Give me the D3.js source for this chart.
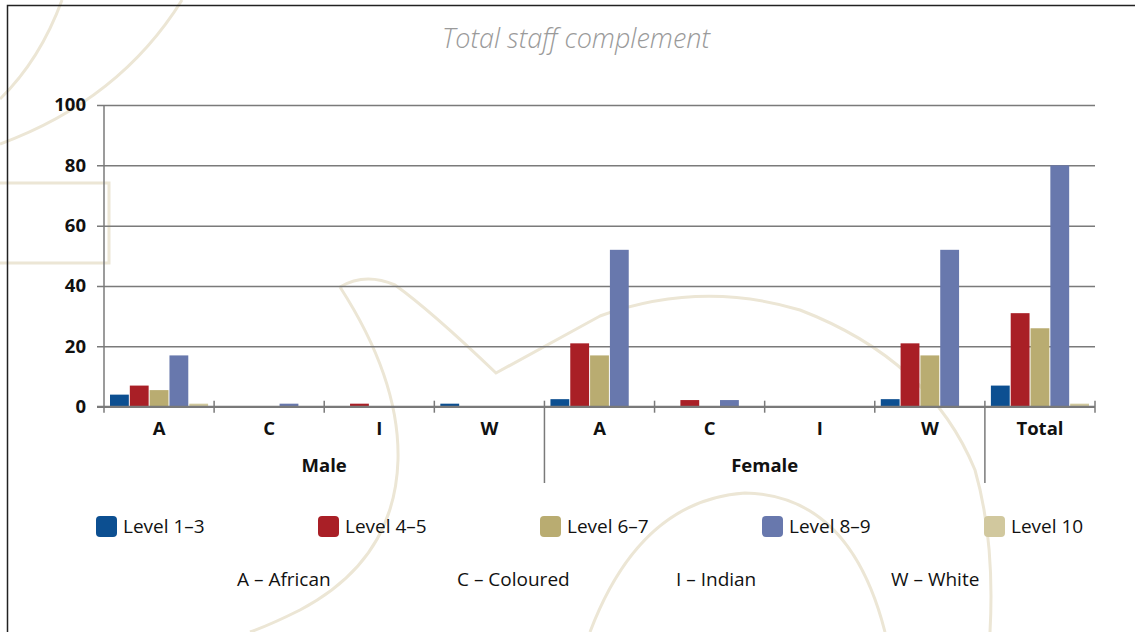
<!DOCTYPE html>
<html>
<head>
<meta charset="utf-8">
<script src="https://d3js.org/d3.v7.min.js"></script>
<style>
  body { margin: 0; background: #fff; }
  text { font-family: "Open Sans", "Noto Sans", sans-serif; fill: #111; }
  .tick-lbl { font-size: 18.5px; font-weight: 700; }
  .leg { font-size: 19px; }
</style>
</head>
<body>
<svg width="1135" height="632"></svg>
<script>
// chart data
var categories = ["A", "C", "I", "W", "A", "C", "I", "W", "Total"];
var groups = ["Male", "Female"];
var series = ["Level 1–3", "Level 4–5", "Level 6–7", "Level 8–9", "Level 10"];
var level13 = [4, 0, 0, 1, 2.5, 0, 0, 2.5, 7];
var level45 = [7, 0, 1, 0, 21, 2.2, 0, 21, 31];
var level67 = [5.5, 0, 0, 0, 17, 0, 0, 17, 26];
var level89 = [17, 1, 0, 0, 52, 2.2, 0, 52, 80];
var level10 = [1, 0, 0, 0, 0, 0, 0, 0, 1];
var yTicks = [0, 20, 40, 60, 80, 100];
var raceKey = ["A – African", "C – Coloured", "I – Indian", "W – White"];

var colors = ["#0c4f91", "#a91f26", "#b9ac71", "#6878ad", "#d1c89e"];
var allValues = [level13, level45, level67, level89, level10];

var svg = d3.select("svg");

// faint background ornaments
var deco = svg.append("g")
    .attr("fill", "none")
    .attr("stroke", "#ece6d5")
    .attr("stroke-width", 3);
deco.append("path").attr("d", "M0,99 Q40,60 62,0");
deco.append("path").attr("d", "M0,144 Q120,100 182,0");
deco.append("path").attr("d", "M0,183 L109,183 L109,263 L0,263");
deco.append("path").attr("d", "M340,287 Q365,272 395,285 Q430,310 496,373 L600,316 Q700,280 800,310 Q930,360 975,470 Q995,540 990,632");
deco.append("path").attr("d", "M340,287 Q400,380 398,460 Q395,560 300,610 Q270,625 250,632");
deco.append("path").attr("d", "M590,632 Q640,500 745,493 Q850,495 885,632");

var margin = {left: 104, right: 1095, top: 105, bottom: 406.7};

var x0 = d3.scaleBand()
    .domain(d3.range(categories.length))
    .range([margin.left, margin.right]);

var x1 = d3.scaleBand()
    .domain(d3.range(series.length))
    .range([6, x0.bandwidth() - 6])
    .paddingInner(0.05);

var y = d3.scaleLinear()
    .domain([0, 100])
    .range([margin.bottom, margin.top]);

// frame
svg.append("path")
    .attr("d", "M7.5,632 L7.5,5.5 L1135,5.5")
    .attr("fill", "none")
    .attr("stroke", "#222")
    .attr("stroke-width", 1.5);

// title
svg.append("text")
    .attr("x", 576)
    .attr("y", 48)
    .attr("text-anchor", "middle")
    .style("font-size", "27px")
    .style("font-style", "italic")
    .style("font-weight", 300)
    .style("fill", "#9a9a9a")
    .text("Total staff complement");

// gridlines + y labels
var yAxis = svg.append("g")
    .attr("transform", "translate(" + margin.left + ",0)")
    .call(d3.axisLeft(y).tickValues(yTicks).tickSize(-(margin.right - margin.left)).tickSizeOuter(0).tickPadding(18));
yAxis.select(".domain").remove();
yAxis.selectAll(".tick line")
    .attr("x1", -7)
    .attr("stroke", "#7a7a7a")
    .attr("stroke-width", 1.5);
yAxis.selectAll(".tick text")
    .attr("class", "tick-lbl")
    .attr("font-family", null)
    .attr("font-size", null)
    .attr("fill", "#111");

// y axis line
svg.append("line")
    .attr("x1", margin.left).attr("x2", margin.left)
    .attr("y1", margin.top).attr("y2", margin.bottom + 6)
    .attr("stroke", "#7a7a7a").attr("stroke-width", 1.5);

// bars
var bars = svg.append("g");
allValues.forEach(function(vals, s) {
    bars.selectAll(".s" + s)
        .data(vals)
        .enter()
        .append("rect")
        .attr("class", "s" + s)
        .attr("x", function(d, i) { return x0(i) + x1(s); })
        .attr("width", x1.bandwidth())
        .attr("y", function(d) { return y(d); })
        .attr("height", function(d) { return y(0) - y(d); })
        .attr("fill", colors[s]);
});

// x axis
var xAxis = svg.append("g")
    .attr("transform", "translate(0," + margin.bottom + ")")
    .call(d3.axisBottom(x0).tickSize(0).tickPadding(15).tickFormat(function(i) { return categories[i]; }));
xAxis.select(".domain").remove();
xAxis.selectAll(".tick text")
    .attr("class", "tick-lbl")
    .attr("font-family", null)
    .attr("font-size", null)
    .attr("fill", "#111");

svg.append("line")
    .attr("x1", margin.left - 7).attr("x2", margin.right)
    .attr("y1", margin.bottom).attr("y2", margin.bottom)
    .attr("stroke", "#7a7a7a").attr("stroke-width", 2);

// group dividers
var bounds = d3.range(1, categories.length + 1).map(function(i) { return x0(i - 1) + x0.bandwidth(); });
svg.append("g").selectAll("line")
    .data(bounds)
    .enter()
    .append("line")
    .attr("x1", function(d) { return d; })
    .attr("x2", function(d) { return d; })
    .attr("y1", margin.bottom - 6)
    .attr("y2", function(d, i) { return (i === 3 || i === 7) ? 483 : margin.bottom + 6; })
    .attr("stroke", "#7a7a7a")
    .attr("stroke-width", 1.5);

// group labels
groups.forEach(function(g, k) {
    var start = x0(k * 4), end = x0(k * 4 + 3) + x0.bandwidth();
    svg.append("text")
        .attr("class", "tick-lbl")
        .attr("x", (start + end) / 2)
        .attr("y", 472)
        .attr("text-anchor", "middle")
        .text(g);
});

// legend
var leg = svg.append("g").selectAll("g")
    .data(series)
    .enter()
    .append("g")
    .attr("transform", function(d, i) { return "translate(" + (96 + i * 222) + ",516)"; });
leg.append("rect")
    .attr("width", 21).attr("height", 21)
    .attr("rx", 4)
    .attr("fill", function(d, i) { return colors[i]; });
leg.append("text")
    .attr("class", "leg")
    .attr("x", 27)
    .attr("y", 17)
    .text(function(d) { return d; });

svg.append("g").selectAll("text")
    .data(raceKey)
    .enter()
    .append("text")
    .attr("class", "leg")
    .attr("x", function(d, i) { return [237, 457, 676, 891][i]; })
    .attr("y", 586)
    .text(function(d) { return d; });
</script>
</body>
</html>
